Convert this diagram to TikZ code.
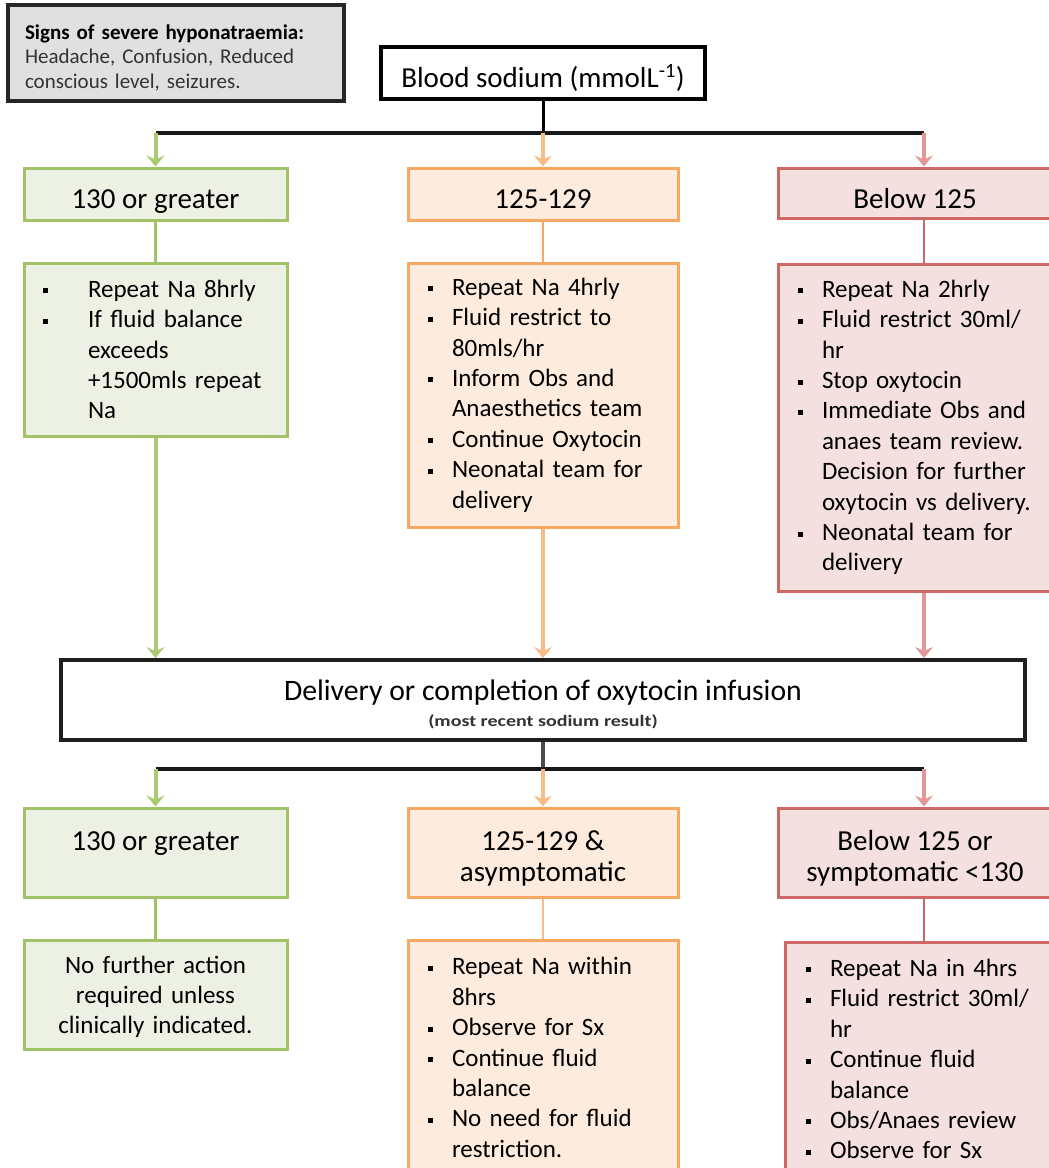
\documentclass[tikz,border=0pt]{standalone}
\usepackage{fontspec}
\setmainfont{Carlito}
\usetikzlibrary{arrows.meta}

\definecolor{grnline}{RGB}{162,194,104}
\definecolor{grnfill}{RGB}{237,241,227}
\definecolor{grnarr}{RGB}{172,202,116}
\definecolor{orgline}{RGB}{249,168,100}
\definecolor{orgfill}{RGB}{253,235,221}
\definecolor{orgarr}{RGB}{250,186,132}
\definecolor{redline}{RGB}{206,104,102}
\definecolor{redfill}{RGB}{243,224,223}
\definecolor{redarr}{RGB}{226,150,150}
\definecolor{signfill}{RGB}{224,224,224}

% bullet and hanging indent for the list boxes
\newcommand{\bul}[1][24pt]{\makebox[#1][l]{\rule[4pt]{5pt}{5pt}}}
\newcommand{\indt}[1][24pt]{\hspace*{#1}}

\begin{document}
\begin{tikzpicture}[x=1pt, y=-1pt,
    box/.style={rectangle, line width=3pt, inner ysep=0pt},
    head/.style={box, align=center, font=\fontsize{29}{31}\selectfont},
    list/.style={box, align=left, inner xsep=20pt, font=\fontsize{25}{30.4}\selectfont},
    grn/.style={draw=grnline, fill=grnfill},
    org/.style={draw=orgline, fill=orgfill},
    red/.style={draw=redline, fill=redfill},
    bar/.style={line width=4pt, draw=black!90},
    tip/.style={-{Stealth[length=11pt, width=18pt, inset=4pt]}},
    garr/.style={line width=4pt, draw=grnarr, tip},
    oarr/.style={line width=4pt, draw=orgarr, tip},
    rarr/.style={line width=4pt, draw=redarr, tip},
    glink/.style={line width=2.5pt, draw=grnline},
    olink/.style={line width=2.5pt, draw=orgline},
    rlink/.style={line width=2.5pt, draw=redline}
]
    \useasboundingbox (0,0) rectangle (1049,1168);
    \clip (0,0) rectangle (1049,1168);

    % top
    \node[box, draw=black!85, fill=signfill, line width=4pt, align=left,
        minimum width=336pt, minimum height=96pt, text width=302pt, inner xsep=17pt,
        text height=0pt, text depth=28pt,
        font=\fontsize{21}{24.5}\selectfont, text=black!80] (signs) at (176,53)
        {{\bfseries\color{black}Signs of severe hyponatraemia:}\\
         Headache, Confusion, Reduced\\
         conscious level, seizures.};
    \node[box, draw=black, fill=white, line width=3.5pt, minimum width=324pt,
        minimum height=52pt, text height=28pt, text depth=0pt,
        font=\fontsize{29}{31}\selectfont] (blood) at (543,73)
        {Blood sodium (mmolL\textsuperscript{-1})};

    % first split
    \node[head, grn, minimum width=263pt, minimum height=52pt, text height=28pt, text depth=0pt] (g1) at (155.5,194) {130 or greater};
    \node[head, org, minimum width=270pt, minimum height=52pt, text height=28pt, text depth=0pt] (o1) at (543,194) {125-129};
    \node[head, red, minimum width=274pt, minimum height=50pt, text height=30pt, text depth=0pt] (r1) at (915,193) {Below 125};

    \node[list, grn, inner xsep=19pt, minimum width=263pt, text width=225pt,
        minimum height=173pt] (g2) at (155.5,349.5)
        {\bul[45pt]Repeat Na 8hrly\\
         \bul[45pt]If fluid balance\\
         \indt[45pt]exceeds\\
         \indt[45pt]+1500mls repeat\\
         \indt[45pt]Na};
    \node[list, org, minimum width=270pt, text width=230pt,
        minimum height=264pt] (o2) at (543,395)
        {\bul Repeat Na 4hrly\\
         \bul Fluid restrict to\\
         \indt 80mls/hr\\
         \bul Inform Obs and\\
         \indt Anaesthetics team\\
         \bul Continue Oxytocin\\
         \bul Neonatal team for\\
         \indt delivery};
    \node[list, red, minimum width=292pt, text width=252pt,
        minimum height=327pt] (r2) at (924,427.5)
        {\bul Repeat Na 2hrly\\
         \bul Fluid restrict 30ml/\\
         \indt hr\\
         \bul Stop oxytocin\\
         \bul Immediate Obs and\\
         \indt anaes team review.\\
         \indt Decision for further\\
         \indt oxytocin vs delivery.\\
         \bul Neonatal team for\\
         \indt delivery};

    % delivery
    \node[box, draw=black!88, fill=white, line width=4pt, align=center,
        minimum width=964pt, minimum height=80pt, text height=52pt, text depth=0pt,
        font=\fontsize{29.7}{26}\selectfont] (dlv) at (543,700)
        {Delivery or completion of oxytocin infusion\\
         {\fontsize{16}{16}\selectfont\bfseries\addfontfeature{FakeStretch=1.25}\color{black!80}(most recent sodium result)}};

    % second split
    \node[head, grn, minimum width=263pt, minimum height=89pt, text height=0pt, text depth=5pt] (g3) at (155.5,852.5)
        {130 or greater};
    \node[head, org, minimum width=270pt, minimum height=89pt, text height=57pt, text depth=0pt] (o3) at (543,852.5)
        {125-129 \&\\ asymptomatic};
    \node[head, red, minimum width=274pt, minimum height=89pt, text height=57pt, text depth=0pt] (r3) at (915,852.5)
        {Below 125 or\\ symptomatic <130};

    \node[box, grn, align=center, minimum width=263pt, text width=243pt, inner xsep=10pt,
        minimum height=109pt, text height=0pt, text depth=43pt,
        font=\fontsize{25}{30.4}\selectfont] (g4) at (155.5,994.5)
        {No further action\\ required unless\\ clinically indicated.};
    \node[list, org, minimum width=270pt, text width=230pt,
        minimum height=235pt] (o4) at (543,1057.5)
        {\bul Repeat Na within\\
         \indt 8hrs\\
         \bul Observe for Sx\\
         \bul Continue fluid\\
         \indt balance\\
         \bul No need for fluid\\
         \indt restriction.};
    \node[list, red, inner xsep=21pt, minimum width=290pt, text width=248pt,
        minimum height=234pt] (r4) at (930,1059)
        {\bul Repeat Na in 4hrs\\
         \bul Fluid restrict 30ml/\\
         \indt hr\\
         \bul Continue fluid\\
         \indt balance\\
         \bul Obs/Anaes review\\
         \bul Observe for Sx};

    % junctions
    \coordinate (j1) at (543,133);
    \coordinate (gj1) at (155.5,133);
    \coordinate (rj1) at (924,133);
    \coordinate (j2) at (543,769);
    \coordinate (gj2) at (155.5,769);
    \coordinate (rj2) at (924,769);

    \draw[line width=3pt, draw=black] (blood) -- (j1);
    \draw[bar] (gj1) -- (rj1);
    \draw[garr] (gj1) -- (g1);
    \draw[oarr] (j1) -- (o1);
    \draw[rarr] (rj1) -- (rj1 |- r1.north);
    \draw[glink] (g1) -- (g2);
    \draw[olink] (o1) -- (o2);
    \draw[rlink] (r1.south -| r2) -- (r2);
    \draw[garr] (g2) -- (g2 |- dlv.north);
    \draw[oarr] (o2) -- (o2 |- dlv.north);
    \draw[rarr] (r2) -- (r2 |- dlv.north);

    \draw[line width=4pt, draw=black!70] (dlv) -- (j2);
    \draw[bar] (gj2) -- (rj2);
    \draw[garr] (gj2) -- (g3);
    \draw[oarr] (j2) -- (o3);
    \draw[rarr] (rj2) -- (rj2 |- r3.north);
    \draw[glink] (g3) -- (g4);
    \draw[olink, draw=orgarr] (o3) -- (o4);
    \draw[rlink] (r3.south -| rj2) -- (rj2 |- r4.north);
\end{tikzpicture}
\end{document}
